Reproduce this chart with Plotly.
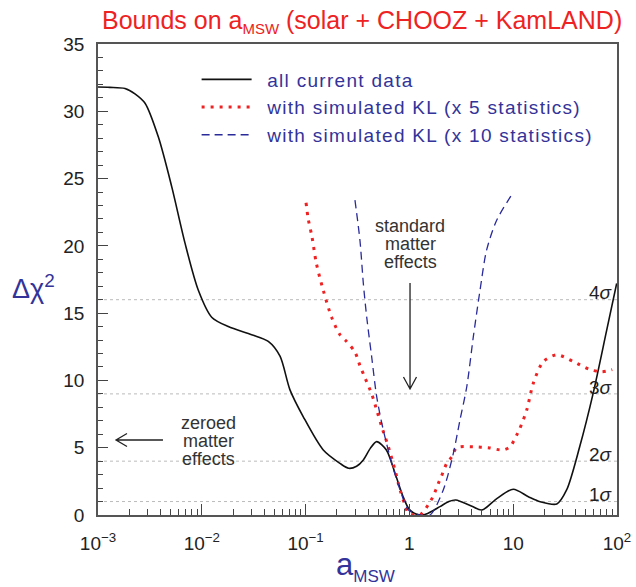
import plotly.graph_objects as go

# ---- data ----
all_x = [1e-3, 1.3e-3, 1.82e-3, 2.27e-3, 2.84e-3, 3.81e-3, 5.13e-3, 6.89e-3, 9.26e-3,
         1.245e-2, 1.8e-2, 3.02e-2, 4.37e-2, 5.67e-2, 7.07e-2, 9.5e-2, 0.148, 0.214,
         0.26, 0.31, 0.36, 0.42, 0.484, 0.6, 0.727, 0.87, 0.98, 1.1, 1.3, 1.5, 1.97,
         2.4, 2.8, 4.0, 5.0, 7.0, 10.0, 14.0, 18.2, 26.3, 32.7, 43.7, 58.9, 79.4, 99.3]
all_y = [31.8, 31.78, 31.7, 31.3, 30.6, 28.1, 24.4, 20.2, 16.7,
         14.7, 14.0, 13.4, 12.9, 11.8, 9.3, 7.3, 4.83, 3.84,
         3.47, 3.62, 4.09, 4.95, 5.45, 4.83, 3.1, 1.36, 0.5, 0.15, 0.0, 0.12, 0.62,
         1.0, 1.11, 0.65, 0.37, 1.24, 1.91, 1.36, 0.99, 0.82, 1.86, 5.07, 9.04, 13.7, 17.2]

kl5_x = [0.101, 0.106, 0.115, 0.127, 0.148, 0.178, 0.214, 0.248, 0.299, 0.334, 0.373,
         0.433, 0.484, 0.541, 0.627, 0.727, 0.813, 0.907, 0.98, 1.16, 1.31, 1.55, 1.70,
         1.90, 2.04, 2.29, 2.56, 2.81, 3.07, 4.13, 5.75, 7.92, 9.31, 10.8, 11.6, 13.5,
         15.6, 19.5, 26.3, 38.0, 55.0, 71.2, 90.0]
kl5_y = [23.2, 22.0, 20.7, 18.7, 16.7, 14.7, 13.4, 12.9, 12.1, 11.1, 10.2,
         9.0, 7.8, 6.56, 5.07, 3.34, 1.86, 0.74, 0.12, 0.0, 0.1, 0.87, 1.41,
         2.35, 2.9, 3.84, 4.33, 4.95, 5.07, 5.07, 5.0, 4.83, 5.07, 5.94, 6.44, 7.8,
         9.78, 11.4, 11.9, 11.4, 10.8, 10.65, 10.8]

kl10_x = [0.299, 0.334, 0.36, 0.388, 0.433, 0.484, 0.561, 0.676, 0.813, 0.98, 1.26,
          1.58, 2.12, 2.65, 3.07, 3.57, 4.13, 4.79, 5.55, 6.93, 9.68]
kl10_y = [23.4, 20.4, 17.2, 14.7, 11.76, 8.79, 6.3, 3.84, 1.86, 0.37, 0.0,
          0.0, 1.86, 4.58, 7.06, 9.53, 13.25, 16.7, 19.7, 21.9, 23.8]

sigma_levels = [1, 4, 9, 16]
sigma_labels = ["1", "2", "3", "4"]

x_tickvals = [1e-3, 1e-2, 1e-1, 1, 10, 100]
x_ticktext = ["10<sup>−3</sup>", "10<sup>−2</sup>", "10<sup>−1</sup>", "1", "10", "10<sup>2</sup>"]
y_tickvals = [0, 5, 10, 15, 20, 25, 30, 35]

legend_names = ["all current data", "with simulated KL (x 5 statistics)",
                "with simulated KL (x 10 statistics)"]

FONT = "Liberation Sans, Arial, Helvetica, sans-serif"
BLUE_TXT = "#333399"


def leg(name):
    return '\u00a0\u00a0<span style="letter-spacing:1.3px">' + name + '</span>'


fig = go.Figure()
fig.add_trace(go.Scatter(x=all_x, y=all_y, mode="lines", name=leg(legend_names[0]),
                         line=dict(color="#111111", width=1.6, shape="spline", smoothing=0.8)))
fig.add_trace(go.Scatter(x=kl5_x, y=kl5_y, mode="lines", name=leg(legend_names[1]),
                         line=dict(color="#ee2222", width=3, dash="3px,6px",
                                   shape="spline", smoothing=0.8)))
fig.add_trace(go.Scatter(x=kl10_x, y=kl10_y, mode="lines", name=leg(legend_names[2]),
                         line=dict(color="#2a2a9a", width=1.3, dash="8px,5px",
                                   shape="spline", smoothing=0.8)))

# dotted sigma grid lines
for lv in sigma_levels:
    fig.add_shape(type="line", xref="paper", yref="y", x0=0, x1=1, y0=lv, y1=lv,
                  line=dict(color="#bbbbbb", width=1, dash="dot"), layer="below")

# sigma labels
for lv, lab in zip(sigma_levels, sigma_labels):
    fig.add_annotation(x=1.985, y=lv + 0.5, xref="x", yref="y", text=lab + "<i>σ</i>",
                       showarrow=False, xanchor="right", yanchor="middle",
                       font=dict(family=FONT, size=19, color="#222222"))


def px2paper(px, py):
    return (px - 98) / 519.0, (515 - py) / 471.0


def ann(px, py, text, size, color):
    xp, yp = px2paper(px, py)
    fig.add_annotation(x=xp, y=yp, xref="paper", yref="paper", text=text, showarrow=False,
                       xanchor="center", yanchor="middle",
                       font=dict(family=FONT, size=size, color=color))


for i, t in enumerate(["standard", "matter", "effects"]):
    ann(410, 226 + 18 * i, t, 18, "#333333")
for i, t in enumerate(["zeroed", "matter", "effects"]):
    ann(208, 423 + 18 * i, t, 18, "#333333")


# arrows as paper-space paths
def path(points_list):
    s = ""
    for pts in points_list:
        for j, (px, py) in enumerate(pts):
            xp, yp = px2paper(px, py)
            s += ("M" if j == 0 else "L") + f"{xp:.4f},{yp:.4f} "
    return s


fig.add_shape(type="path", xref="paper", yref="paper",
              path=path([[(410, 283), (410, 389)], [(403.5, 377), (410, 389), (416.5, 377)]]),
              line=dict(color="#222222", width=1.3))
fig.add_shape(type="path", xref="paper", yref="paper",
              path=path([[(163, 440), (116, 440)], [(127, 433.5), (116, 440), (127, 446.5)]]),
              line=dict(color="#222222", width=1.3))

# title and axis titles
ann(362, 21, 'Bounds on a<sub><span style="font-size:15px">MSW</span></sub> (solar + CHOOZ + KamLAND)',
    25, "#ee2222")
ann(33, 287, "Δχ<sup>2</sup>", 27, BLUE_TXT)
ann(365, 566, 'a<sub><span style="font-size:17px">MSW</span></sub>', 31, BLUE_TXT)

minor_x = [m * 10 ** e for e in range(-3, 2) for m in range(2, 10)]

fig.update_layout(
    width=636, height=587,
    margin=dict(l=98, r=19, t=44, b=72),
    paper_bgcolor="white", plot_bgcolor="white",
    font=dict(family=FONT, size=18, color="#222222"),
    showlegend=True,
    legend=dict(x=0.19, y=0.965, xanchor="left", yanchor="top",
                bgcolor="rgba(0,0,0,0)", font=dict(family=FONT, size=19, color=BLUE_TXT),
                itemwidth=50, tracegroupgap=0),
    xaxis=dict(type="log", range=[-3, 2], tickmode="array", tickvals=x_tickvals,
               ticktext=x_ticktext, ticks="inside", ticklen=11, tickwidth=1.2,
               tickcolor="#444444", showline=True, linecolor="#555555", linewidth=1.5,
               mirror=True, showgrid=False, zeroline=False, ticklabelstandoff=10,
               automargin=False,
               tickfont=dict(family=FONT, size=19, color="#222222"),
               minor=dict(tickmode="array", tickvals=minor_x, ticks="inside", ticklen=6,
                          tickwidth=1.1, tickcolor="#444444", showgrid=False)),
    yaxis=dict(range=[0, 35], tickmode="array", tickvals=y_tickvals, ticks="inside",
               ticklen=10, tickwidth=1.2, tickcolor="#444444", showline=True,
               linecolor="#555555", linewidth=1.5, mirror=True, showgrid=False,
               zeroline=False, ticklabelstandoff=8, automargin=False,
               tickfont=dict(family=FONT, size=19, color="#222222"),
               minor=dict(dtick=1, ticks="inside", ticklen=5, tickwidth=1.1,
                          tickcolor="#444444", showgrid=False)),
)

fig.write_html("out.html")
